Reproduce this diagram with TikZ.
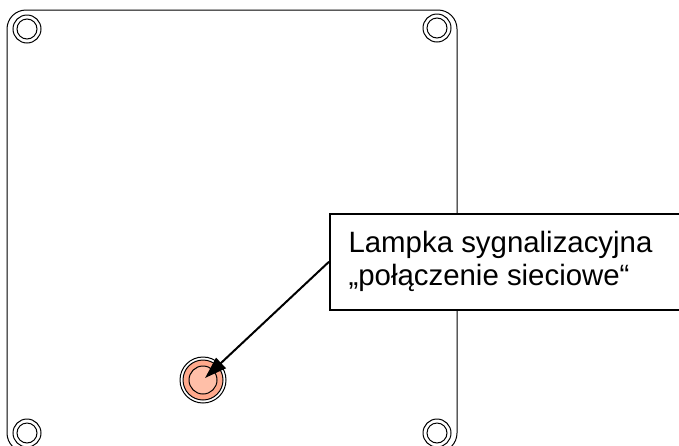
\documentclass[tikz,border=0pt]{standalone}
\usepackage{fontspec}
\setmainfont{Liberation Sans}
\usetikzlibrary{arrows.meta}
\tikzset{>={Triangle[length=22pt,width=14pt]}}
\tikzset{plate/.style={draw=black,line width=1pt,rounded corners=19pt}}
\tikzset{ring/.style={draw=black,line width=1pt,circle,inner sep=0pt}}
\tikzset{labelbox/.style={draw=black,line width=1.5pt,fill=white,minimum width=351pt,minimum height=96pt,inner sep=0pt}}
\definecolor{lampOuter}{HTML}{FFA98C}
\definecolor{lampInner}{HTML}{FFBFA8}
\begin{document}
\begin{tikzpicture}[x=1pt,y=-1pt]
		\useasboundingbox (0,0) rectangle (679,445);
		
		\begin{scope}
		\clip (0,0) rectangle (679,445);
		\draw[plate] (7,10) rectangle (457,452);	% front plate
		
		% screws
		\foreach \name/\px/\py in {tl/27/29, tr/437/28, bl/27/433, br/437/433} {
			\node[ring,minimum size=28pt] (\name Out) at (\px,\py) {};
			\node[ring,minimum size=20pt] (\name In) at (\px,\py) {};
		}
		\end{scope}
		
		% lamp
		\node[ring,minimum size=46pt] (lampRing) at (203,380) {};
		\node[ring,minimum size=40pt,fill=lampOuter] (lampBody) at (203,380) {};
		\node[ring,minimum size=28pt,fill=lampInner] (lampGlass) at (203,380) {};
		\coordinate (lampTip) at (205,378);
		
		% label
		\node[labelbox,anchor=north west] (lampLabel) at (329,213) {};
		\node[anchor=west,align=left,font=\fontsize{29.4pt}{33pt}\selectfont] (lampText) at (345,261) {Lampka sygnalizacyjna\\„połączenie sieciowe“};
		
		\draw[->,line width=2pt] (lampLabel.west) -- (lampTip);
\end{tikzpicture}
\end{document}
